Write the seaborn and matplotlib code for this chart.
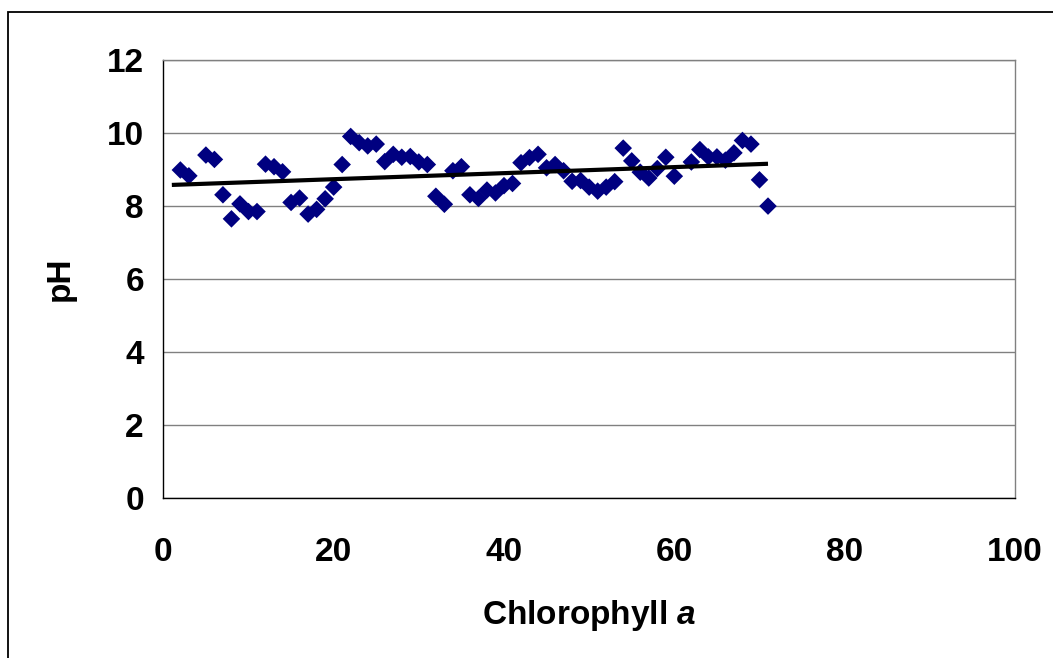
import numpy as np
import pandas as pd
import matplotlib
matplotlib.use("Agg")
import matplotlib.pyplot as plt
from matplotlib.patches import Rectangle
import seaborn as sns

# Chlorophyll a readings and the matching pH values
chlorophyll = [2, 3, 5, 6, 7, 8, 9, 10, 11, 12, 13, 14, 15, 16, 17, 18, 19, 20,
               21, 22, 23, 24, 25, 26, 27, 28, 29, 30, 31, 32, 33, 34, 35, 36,
               37, 38, 39, 40, 41, 42, 43, 44, 45, 46, 47, 48, 49, 50, 51, 52,
               53, 54, 55, 56, 57, 58, 59, 60, 62, 63, 64, 65, 66, 67, 68, 69,
               70, 71]
ph = [8.99, 8.83, 9.40, 9.28, 8.31, 7.65, 8.06, 7.85, 7.85, 9.15, 9.08, 8.94,
      8.10, 8.22, 7.78, 7.91, 8.20, 8.52, 9.14, 9.91, 9.74, 9.65, 9.70, 9.22,
      9.42, 9.34, 9.36, 9.21, 9.14, 8.27, 8.05, 8.97, 9.08, 8.31, 8.21, 8.44,
      8.36, 8.56, 8.62, 9.19, 9.33, 9.42, 9.05, 9.14, 8.97, 8.68, 8.70, 8.52,
      8.41, 8.52, 8.67, 9.59, 9.24, 8.93, 8.77, 9.03, 9.34, 8.82, 9.21, 9.55,
      9.35, 9.35, 9.26, 9.46, 9.80, 9.70, 8.72, 8.00]

trend_start = 1
x_ticks = [0, 20, 40, 60, 80, 100]
y_ticks = [0, 2, 4, 6, 8, 10, 12]

df = pd.DataFrame({"chl": chlorophyll, "ph": ph})

sns.set_style("white")
plt.rcParams["font.family"] = ["Liberation Sans", "DejaVu Sans"]
plt.rcParams["font.weight"] = "bold"
plt.rcParams["text.color"] = "black"
plt.rcParams["axes.labelcolor"] = "black"
plt.rcParams["mathtext.fontset"] = "custom"
plt.rcParams["mathtext.bfit"] = "Liberation Sans:italic:bold"
plt.rcParams["mathtext.it"] = "Liberation Sans:italic:bold"

fig = plt.figure(figsize=(10.53, 6.58), dpi=100)
ax = fig.add_axes([0.1551, 0.2436, 0.9639 - 0.1551, 0.9084 - 0.2436])

# outer chart frame
fig.patches.append(Rectangle((8.3 / 1053, -0.5), 2.0, 1.5 - 11.7 / 658,
                             transform=fig.transFigure, fill=False,
                             edgecolor="black", linewidth=1.3, zorder=0))

sns.scatterplot(data=df, x="chl", y="ph", marker="D", s=80, color="#000080",
                edgecolor="none", linewidth=0, ax=ax, zorder=3, legend=False)

# least-squares trend line
slope, intercept = np.polyfit(df["chl"], df["ph"], 1)
xs = np.array([trend_start, df["chl"].max()])
ax.plot(xs, intercept + slope * xs, color="black", linewidth=3.0,
        solid_capstyle="butt", zorder=4)

ax.set_xlim(0, 100)
ax.set_ylim(0, 12)
ax.set_xticks(x_ticks)
ax.set_yticks(y_ticks)
ax.yaxis.grid(True, color="#808080", linewidth=1.0)
ax.xaxis.grid(False)
ax.set_axisbelow(True)

for side in ["left", "bottom"]:
    ax.spines[side].set_color("black")
    ax.spines[side].set_linewidth(1.0)
for side in ["right", "top"]:
    ax.spines[side].set_color("#808080")
    ax.spines[side].set_linewidth(1.0)
    ax.spines[side].set_visible(True)

ax.tick_params(axis="both", direction="out", length=8, width=1.0,
               color="black", labelsize=24, labelcolor="black")
ax.tick_params(axis="x", pad=20)
ax.tick_params(axis="y", pad=6)
for lab in ax.get_xticklabels() + ax.get_yticklabels():
    lab.set_fontweight("bold")

ax.set_xlabel(r"Chlorophyll $\mathbfit{a}$", fontsize=24, fontweight="bold",
              color="black", labelpad=22)
ax.set_ylabel("pH", fontsize=24, fontweight="bold", color="black",
              labelpad=22)

fig.savefig("out.png", dpi=100, facecolor="white")
